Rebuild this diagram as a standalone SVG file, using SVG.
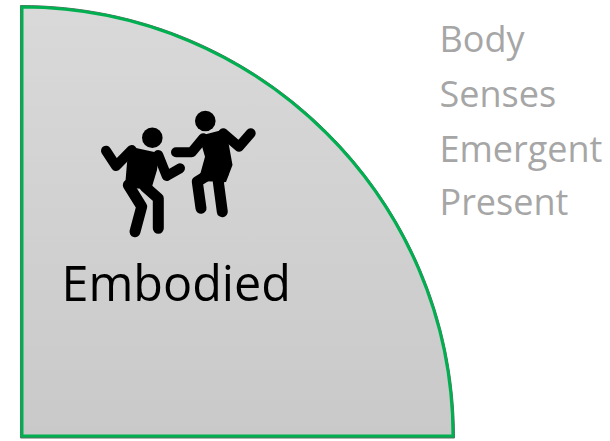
<svg xmlns="http://www.w3.org/2000/svg" width="610" height="441" viewBox="0 0 610 441">
<defs>
<linearGradient id="fill" x1="0" y1="0" x2="0" y2="1"><stop offset="0" stop-color="#d9d9d9"/><stop offset="1" stop-color="#c9c9c9"/></linearGradient>
</defs>
<style>
.limb{fill:none;stroke:#000;stroke-width:10;stroke-linecap:round;stroke-linejoin:round}
.leg{stroke-width:11}
.lab{font-family:"Open Sans","Liberation Sans",sans-serif;font-size:36px;fill:#a6a6a6}
</style>
<g id="quadrant">
<path d="M20.500 5.500C260 5.500 454.500 199 454.500 438H20.500Z" fill="#5f6f66" stroke="#5f6f66" stroke-width="1"/>
<path d="M22 7C259.500 7.500 452.500 200 453 436H22Z" fill="url(#fill)" stroke="#00b050" stroke-width="3"/>
</g>
<g id="dancers">
<circle cx="152.300" cy="137.700" r="10.300"/>
<path class="limb" d="M106 150.700L116 166L131.700 150"/>
<path class="limb" d="M158.300 155L166.700 176L180 168.300"/>
<path d="M129 146.500L159 153L157 170L151 190L125 187L127 163Z"/>
<path class="limb leg" d="M128.300 185L141.700 206.700L135 231.700"/>
<path class="limb leg" d="M145 186.700L158.300 198.300V228.300"/>
<circle cx="205.300" cy="121" r="10.300"/>
<path class="limb" d="M176 152.300H191.700L203.300 138.300"/>
<path class="limb" d="M223.300 133.300L239 146.700L250.700 133.300"/>
<path d="M199 136L226 129L232.500 165L226 182L198.300 181L205 156.700Z"/>
<path class="limb leg" d="M213.300 171.700L197.300 181.700L201 208.300"/>
<path class="limb leg" d="M223.300 173.300L218.300 181.700L222.300 211.700"/>
</g>
<text id="embodied" x="61.500" y="301" font-family="'Open Sans','Liberation Sans',sans-serif" font-size="48.500" fill="#000">Embodied</text>
<g id="labels">
<text class="lab" x="439.500" y="52">Body</text>
<text class="lab" x="439.500" y="107">Senses</text>
<text class="lab" x="439.500" y="162">Emergent</text>
<text class="lab" x="439.500" y="215">Present</text>
</g>
</svg>
